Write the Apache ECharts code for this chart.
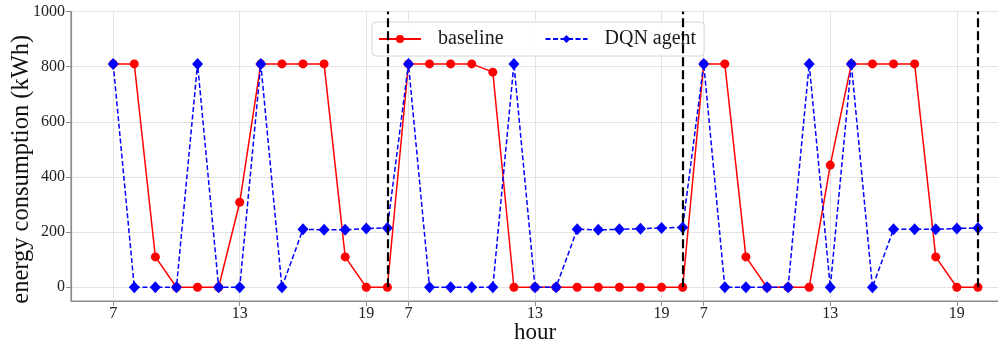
<!DOCTYPE html>
<html>
<head>
<meta charset="utf-8">
<script src="https://cdn.jsdelivr.net/npm/echarts@6/dist/echarts.min.js"></script>
<style>
html,body{margin:0;padding:0;background:#fff;}
#chart{width:998px;height:349px;}
</style>
</head>
<body>
<div id="chart"></div>
<script>
// ---- data ----
const hours = [7, 8, 9, 10, 11, 12, 13, 14, 15, 16, 17, 18, 19, 20];
const dayCount = 3;
const tickHours = [7, 13, 19];
const yTicks = [0, 200, 400, 600, 800, 1000];
const baseline = [
  810, 810, 110, 0, 0, 0, 308, 810, 810, 810, 810, 110, 0, 0,
  810, 810, 810, 810, 780, 0, 0, 0, 0, 0, 0, 0, 0, 0,
  810, 810, 110, 0, 0, 0, 443, 810, 810, 810, 810, 110, 0, 0
];
const dqnAgent = [
  810, 0, 0, 0, 810, 0, 0, 810, 0, 210, 208, 208, 213, 215,
  810, 0, 0, 0, 0, 810, 0, 0, 210, 208, 210, 212, 215, 217,
  810, 0, 0, 0, 0, 810, 0, 810, 0, 210, 210, 210, 213, 215
];

// ---- derived ----
const perDay = hours.length;
const tickPos = [];
const tickLabelMap = {};
for (let d = 0; d < dayCount; d++) {
  tickHours.forEach(h => {
    const p = d * perDay + hours.indexOf(h);
    tickPos.push(p);
    tickLabelMap[p] = String(h);
  });
}
const boundaries = [];
for (let d = 0; d < dayCount; d++) boundaries.push(d * perDay + perDay - 1);

const toXY = arr => arr.map((v, i) => [i, v]);
const FONT = "'Liberation Serif', 'Times New Roman', serif";

const chart = echarts.init(document.getElementById('chart'), null, {renderer: 'canvas'});
chart.setOption({
  animation: false,
  backgroundColor: '#ffffff',
  textStyle: {fontFamily: FONT},
  grid: {left: 71, right: -1, top: 11.5, bottom: 48, show: true, borderColor: '#8c8c8c', borderWidth: 1.2, containLabel: false, outerBoundsMode: 'none'},
  legend: {
    left: 372, top: 22,
    padding: [7, 8, 7, 6],
    itemGap: 41,
    itemWidth: 42, itemHeight: 10,
    borderColor: '#d6d6d6', borderWidth: 1, borderRadius: 4,
    backgroundColor: 'rgba(255,255,255,0.85)',
    textStyle: {fontFamily: FONT, fontSize: 20, color: '#1a1a1a', padding: [0, 0, 0, 12]},
    data: ['baseline', 'DQN agent']
  },
  xAxis: {
    type: 'value', min: -2, max: 42,
    name: 'hour', nameLocation: 'middle', nameGap: 20, nameMoveOverlap: false,
    nameTextStyle: {fontFamily: FONT, fontSize: 23, color: '#111'},
    axisLine: {show: true, onZero: false, lineStyle: {color: '#8c8c8c', width: 1.2}},
    axisTick: {show: true, length: 5, customValues: tickPos, lineStyle: {color: '#8c8c8c'}},
    axisLabel: {customValues: tickPos, formatter: v => tickLabelMap[v] || '', fontFamily: FONT, fontSize: 16, color: '#222', margin: 5},
    splitLine: {show: true, lineStyle: {color: '#e3e3e3', width: 1}}
  },
  yAxis: {
    type: 'value', min: -50, max: 1000,
    name: 'energy consumption (kWh)', nameLocation: 'middle', nameGap: 37, nameMoveOverlap: false,
    nameTextStyle: {fontFamily: FONT, fontSize: 24.5, color: '#111', padding: [0, 26, 0, 0]},
    axisLine: {show: true, onZero: false, lineStyle: {color: '#8c8c8c', width: 1.2}},
    axisTick: {show: true, length: 5, customValues: yTicks, lineStyle: {color: '#8c8c8c'}},
    axisLabel: {customValues: yTicks, formatter: v => String(v), fontFamily: FONT, fontSize: 16, color: '#222', margin: 6},
    splitLine: {show: true, lineStyle: {color: '#e3e3e3', width: 1}}
  },
  series: [
    {
      name: 'baseline', type: 'line', data: toXY(baseline),
      symbol: 'circle', symbolSize: 9,
      lineStyle: {color: '#ff0000', width: 1.5},
      itemStyle: {color: '#ff0000'},
      z: 3,
      markLine: {
        silent: true, symbol: 'none', label: {show: false},
        lineStyle: {color: '#000', type: [9, 4], width: 2.2},
        data: boundaries.map(b => [{coord: [b, 0]}, {coord: [b, 1000]}])
      }
    },
    {
      name: 'DQN agent', type: 'line', data: toXY(dqnAgent),
      symbol: 'diamond', symbolSize: [11, 12],
      lineStyle: {color: '#0000ff', width: 1.5, type: [5, 2.5]},
      itemStyle: {color: '#0000ff'},
      z: 4
    }
  ]
});
</script>
</body>
</html>
